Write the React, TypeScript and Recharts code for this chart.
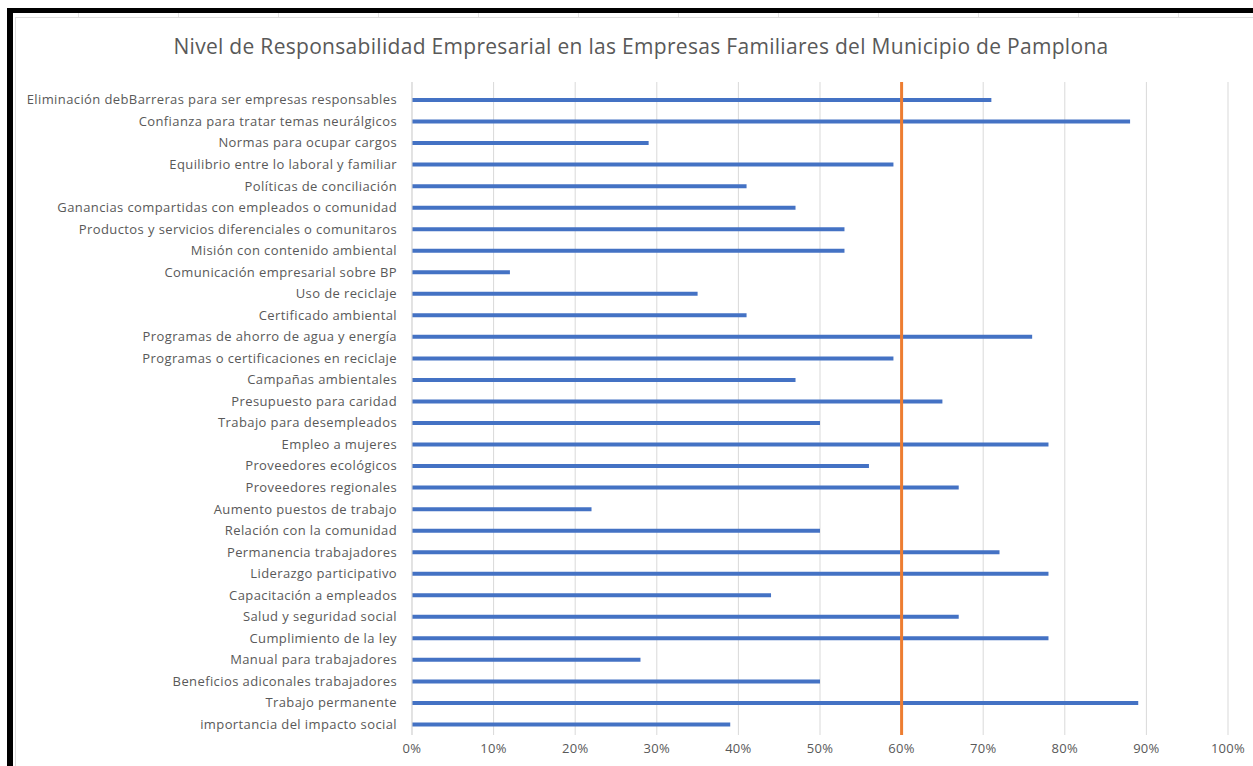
import React from 'react';
import { BarChart, Bar, XAxis, YAxis, CartesianGrid, ReferenceLine } from 'recharts';

const categories = [
  'Eliminación debBarreras para ser empresas responsables',
  'Confianza para tratar temas neurálgicos',
  'Normas para ocupar cargos',
  'Equilibrio entre lo laboral y familiar',
  'Políticas de conciliación',
  'Ganancias compartidas con empleados o comunidad',
  'Productos y servicios diferenciales o comunitaros',
  'Misión con contenido ambiental',
  'Comunicación empresarial sobre BP',
  'Uso de reciclaje',
  'Certificado ambiental',
  'Programas de ahorro de agua y energía',
  'Programas o certificaciones en reciclaje',
  'Campañas ambientales',
  'Presupuesto para caridad',
  'Trabajo para desempleados',
  'Empleo a mujeres',
  'Proveedores ecológicos',
  'Proveedores regionales',
  'Aumento puestos de trabajo',
  'Relación con la comunidad',
  'Permanencia trabajadores',
  'Liderazgo participativo',
  'Capacitación a empleados',
  'Salud y seguridad social',
  'Cumplimiento de la ley',
  'Manual para trabajadores',
  'Beneficios adiconales trabajadores',
  'Trabajo permanente',
  'importancia del impacto social',
];

const nivel = [71, 88, 29, 59, 41, 47, 53, 53, 12, 35, 41, 76, 59, 47, 65, 50, 78, 56, 67, 22, 50, 72, 78, 44, 67, 78, 28, 50, 89, 39];

const xTicks = [0, 10, 20, 30, 40, 50, 60, 70, 80, 90, 100];
const umbral = 60;

const data = categories.map((name, i) => ({ name, nivel: nivel[i] }));

const gris = '#595959';
const font = '"Open Sans", Lato, sans-serif';

export default function App() {
  return (
    <div style={{ position: 'fixed', left: 0, top: 0, width: 1253, height: 766, background: '#fff', overflow: 'hidden' }}>
      {/* excel cell lines above the chart */}
      {[78, 178, 278, 378, 478, 578, 678, 778, 878, 978, 1078, 1178].map((x) => (
        <div key={x} style={{ position: 'absolute', left: x, top: 13, width: 1, height: 4, background: '#e3e3e3' }} />
      ))}
      <div style={{ position: 'absolute', left: 7, top: 8, width: 1300, height: 800, borderTop: '5px solid #000', borderLeft: '6px solid #000', boxSizing: 'border-box' }} />
      <div style={{ position: 'absolute', left: 15, top: 17, width: 1300, height: 800, border: '1px solid #dedede', boxSizing: 'border-box' }} />
      <div style={{ position: 'absolute', left: 0, top: 32, width: 1282, textAlign: 'center', fontFamily: font, fontSize: 21, letterSpacing: 0.3, color: gris, whiteSpace: 'nowrap' }}>
        Nivel de Responsabilidad Empresarial en las Empresas Familiares del Municipio de Pamplona
      </div>
      <div style={{ position: 'absolute', left: 0, top: 0 }}>
        <BarChart width={1253} height={766} data={data} layout="vertical" margin={{ top: 82, right: 25, bottom: 0, left: 0 }}>
          <CartesianGrid horizontal={false} stroke="#d9d9d9" strokeWidth={1} />
          <XAxis
            type="number"
            domain={[0, 100]}
            ticks={xTicks}
            tickFormatter={(v) => `${v}%`}
            axisLine={false}
            tickLine={false}
            height={31}
            tickMargin={3}
            interval={0}
            tick={{ fill: gris, fontSize: 13, fontFamily: font, letterSpacing: 0.3 }}
          />
          <YAxis
            type="category"
            dataKey="name"
            width={412}
            padding={{ top: 7, bottom: 0 }}
            axisLine={{ stroke: '#d9d9d9' }}
            tickLine={false}
            tickMargin={9}
            interval={0}
            tick={{ fill: gris, fontSize: 13, fontFamily: font, letterSpacing: 0.4 }}
          />
          <Bar dataKey="nivel" fill="#4472C4" barSize={4} isAnimationActive={false} />
          <ReferenceLine x={umbral} stroke="#ED7D31" strokeWidth={3} />
        </BarChart>
      </div>
    </div>
  );
}
